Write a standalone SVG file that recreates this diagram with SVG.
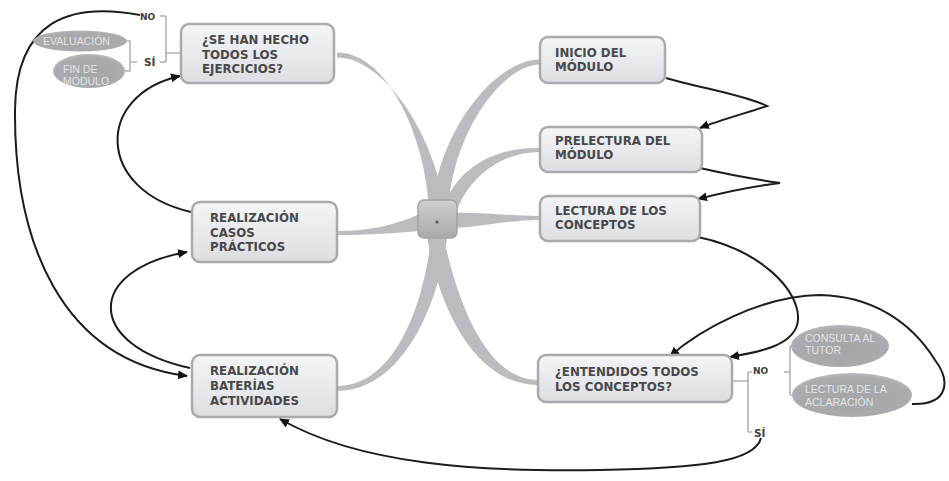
<svg xmlns="http://www.w3.org/2000/svg" width="949" height="481" viewBox="0 0 949 481">
  <defs>
    <linearGradient id="boxFill" x1="0" y1="0" x2="0" y2="1">
      <stop offset="0" stop-color="#f4f5f7"/>
      <stop offset="1" stop-color="#dcdee2"/>
    </linearGradient>
    <linearGradient id="hubFill" x1="0" y1="0" x2="0" y2="1">
      <stop offset="0" stop-color="#cfd0d2"/>
      <stop offset="1" stop-color="#a7a9ac"/>
    </linearGradient>
    <radialGradient id="ovalFill" cx="0.5" cy="0.55" r="0.55">
      <stop offset="0" stop-color="#a3a5a8"/>
      <stop offset="0.85" stop-color="#a9abae"/>
      <stop offset="1" stop-color="#b9bbbe"/>
    </radialGradient>
    <marker id="arr" viewBox="0 0 10 10" refX="9" refY="5" markerWidth="10" markerHeight="10" markerUnits="userSpaceOnUse" orient="auto">
      <path d="M0,0.5 L10,5 L0,9.5 z" fill="#111"/>
    </marker>
    <style>
      .box { fill: url(#boxFill); stroke: #a8aaad; stroke-width: 2.5; }
      .branch { fill: #babcbf; }
      .twig { fill: none; stroke: #b0b2b5; stroke-width: 1.6; }
      .oval { fill: url(#ovalFill); }
      .flow { fill: none; stroke: #1c1c1c; stroke-width: 2; marker-end: url(#arr); }
      .t { font-family: "DejaVu Sans", Verdana, sans-serif; font-weight: bold; font-size: 11.8px; fill: #48484b; }
      .o { font-family: "Liberation Sans", Arial, sans-serif; font-size: 10.5px; fill: #e4e4e4; }
      .lbl { font-family: "DejaVu Sans", Verdana, sans-serif; font-weight: bold; fill: #3e3e40; }
    </style>
  </defs>

  <rect width="949" height="481" fill="#ffffff"/>

  <!-- tapered branches from the central hub -->
  <g id="branches">
    <path class="branch" d="M337,52.5 C388,52 427,140 429,212 L445,212 C437,138 385,57.5 337,57.5 Z"/>
    <path class="branch" d="M540,59.5 C497,59 437,130 432,212 L448,212 C452,132 503,64.5 540,64.5 Z"/>
    <path class="branch" d="M540,148 C498,147 458,165 443,208 L457,210 C470,176 502,152 540,152 Z"/>
    <path class="branch" d="M540,216 C510,216 480,212 455,213 L455,228 C480,227 510,220 540,220 Z"/>
    <path class="branch" d="M337,231 C370,231 395,225 420,214 L420,231 C395,233 370,235 337,235 Z"/>
    <path class="branch" d="M432,230 C424,312 392,386 337,386 L337,391 C396,391 438,318 448,230 Z"/>
    <path class="branch" d="M426,230 C440,322 482,385 538,385 L538,380 C492,380 460,318 442,230 Z"/>
  </g>

  <!-- thin sub-topic brackets -->
  <g id="brackets">
    <path class="twig" d="M181,53 H166 M166,16 V62 M160,16 H166 M160,62 H166"/>
    <path class="twig" d="M127,41 H130 V71 H125 M130,62 H137"/>
    <path class="twig" d="M732,381 H748 M748,372 V432 M748,372 H752 M748,432 H752"/>
    <path class="twig" d="M784,372 H790 M790,346 V395 M790,346 H794 M790,395 H794"/>
  </g>

  <!-- flow connectors -->
  <g id="connectors">
    <path class="flow" d="M140,15 C70,2 16,20 15,110 C14,240 60,360 187,376"/>
    <path class="flow" d="M191,212 C95,190 95,95 180,76"/>
    <path class="flow" d="M190,368 C85,345 85,270 187,252"/>
    <path class="flow" d="M666,78 C700,88 745,95 767,106 C750,112 720,120 700,128"/>
    <path class="flow" d="M700,168 C730,175 760,180 780,183 C755,186 725,192 698,199"/>
    <path class="flow" d="M698,237 C760,250 800,290 798,320 C796,345 760,352 730,357"/>
    <path class="flow" d="M912,404 C950,405 950,380 935,360 C910,320 870,296 820,295 C760,296 700,330 670,356"/>
    <path class="flow" d="M761,438 C755,462 700,468 600,470 C480,472 360,465 280,419"/>
  </g>

  <!-- central hub -->
  <g id="hub">
    <rect x="418" y="200" width="39" height="38" rx="6" fill="url(#hubFill)" stroke="#a3a5a8" stroke-width="1.5"/>
    <circle cx="437" cy="222" r="1.6" fill="#555"/>
  </g>

  <g id="n-ejercicios">
    <rect class="box" x="181" y="24" width="153" height="59" rx="8"/>
    <text class="t" x="202" y="44">¿SE HAN HECHO</text>
    <text class="t" x="202" y="58.5">TODOS LOS</text>
    <text class="t" x="202" y="73">EJERCICIOS?</text>
  </g>

  <g id="n-inicio">
    <rect class="box" x="540" y="37" width="125" height="46" rx="8"/>
    <text class="t" x="555" y="57">INICIO DEL</text>
    <text class="t" x="555" y="71">MÓDULO</text>
  </g>

  <g id="n-prelectura">
    <rect class="box" x="540" y="127" width="162" height="45" rx="8"/>
    <text class="t" x="555" y="145">PRELECTURA DEL</text>
    <text class="t" x="555" y="159">MÓDULO</text>
  </g>

  <g id="n-lectura">
    <rect class="box" x="540" y="196" width="160" height="45" rx="8"/>
    <text class="t" x="555" y="215">LECTURA DE LOS</text>
    <text class="t" x="555" y="229">CONCEPTOS</text>
  </g>

  <g id="n-casos">
    <rect class="box" x="192" y="202" width="145" height="60" rx="8"/>
    <text class="t" x="210" y="222">REALIZACIÓN</text>
    <text class="t" x="210" y="236.5">CASOS</text>
    <text class="t" x="210" y="251">PRÁCTICOS</text>
  </g>

  <g id="n-baterias">
    <rect class="box" x="192" y="355" width="145" height="62" rx="8"/>
    <text class="t" x="210" y="375">REALIZACIÓN</text>
    <text class="t" x="210" y="390">BATERÍAS</text>
    <text class="t" x="210" y="405">ACTIVIDADES</text>
  </g>

  <g id="n-entendidos">
    <rect class="box" x="538" y="355" width="194" height="47" rx="8"/>
    <text class="t" x="555" y="376">¿ENTENDIDOS TODOS</text>
    <text class="t" x="555" y="391">LOS CONCEPTOS?</text>
  </g>

  <g id="n-evaluacion">
    <ellipse class="oval" cx="80" cy="41" rx="47" ry="10.5"/>
    <text class="o" x="43" y="45">EVALUACIÓN</text>
  </g>

  <g id="n-fin">
    <ellipse class="oval" cx="89" cy="71" rx="36" ry="17"/>
    <text class="o" x="63" y="72.5">FIN DE</text>
    <text class="o" x="63" y="85">MÓDULO</text>
  </g>

  <g id="n-consulta">
    <ellipse class="oval" cx="840" cy="346" rx="49" ry="21"/>
    <text class="o" x="805" y="342">CONSULTA AL</text>
    <text class="o" x="805" y="354">TUTOR</text>
  </g>

  <g id="n-aclaracion">
    <ellipse class="oval" cx="852" cy="395" rx="60" ry="22"/>
    <text class="o" x="805" y="393">LECTURA DE LA</text>
    <text class="o" x="805" y="406">ACLARACIÓN</text>
  </g>

  <!-- branch labels -->
  <g id="labels">
    <text class="lbl" x="140" y="20" font-size="9">NO</text>
    <text class="lbl" x="144" y="66" font-size="10.5">SÍ</text>
    <text class="lbl" x="753" y="374" font-size="9">NO</text>
    <text class="lbl" x="754" y="437" font-size="10.5">SÍ</text>
  </g>
</svg>
